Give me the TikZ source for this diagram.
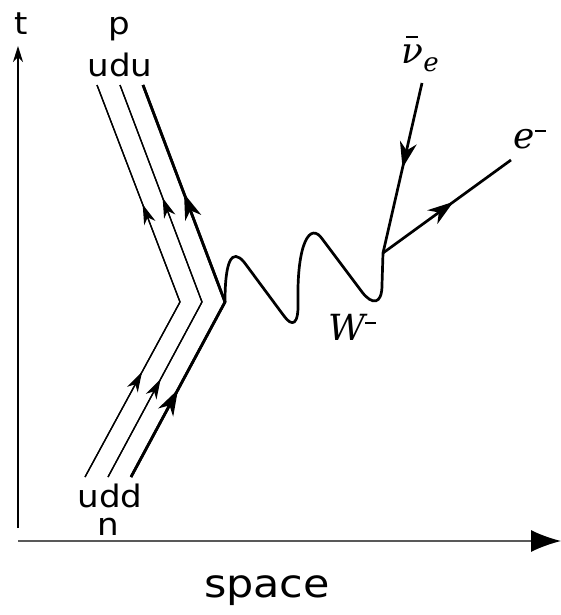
\documentclass[tikz,border=0pt]{standalone}
\usepackage{fontspec}
\setmainfont{DejaVu Sans}[FakeStretch=1.1]
\newfontfamily\mlab{DejaVu Serif}
\usetikzlibrary{arrows.meta,decorations.markings}
\newcommand{\supminus}{\raisebox{0.45em}{\rule{0.3em}{0.06em}}}
\tikzset{
  q/.style={line width=1.3pt},
  qb/.style={line width=2.7pt},
  marr/.style={postaction={decorate},decoration={markings,
     mark=at position #1 with {\arrow{Stealth[length=20pt,width=12pt,inset=6pt]}}}},
  marrb/.style={postaction={decorate},decoration={markings,
     mark=at position #1 with {\arrow{Stealth[length=26pt,width=17pt,inset=8pt]}}}},
  lbl/.style={inner sep=0pt,font=\fontsize{31}{31}\selectfont},
  mlbl/.style={inner sep=0pt,font=\fontsize{36}{36}\mlab\itshape},
}
\begin{document}
\begin{tikzpicture}[x=1pt,y=-1pt]
\useasboundingbox (0,0) rectangle (561,615);
% axes
\coordinate (t0) at (18,528);
\coordinate (t1) at (18,46);
\coordinate (s0) at (18,541);
\coordinate (s1) at (561,541);
\draw[line width=2pt,-{Stealth[length=16pt,width=10pt,inset=5pt]}] (t0) -- (t1);
\draw[line width=1.4pt,black!65,-{Latex[length=30pt,width=22pt,black]}] (s0) -- (s1);
\node[lbl,anchor=base] (tl) at (21,35) {t};
\node[inner sep=0pt,anchor=base,font=\fontsize{39}{39}\selectfont] (sl) at (267,597) {space};
% quarks
\coordinate (a0) at (85,477);  \coordinate (av) at (180,302); \coordinate (a1) at (97,85);
\coordinate (b0) at (108,477); \coordinate (bv) at (202,302); \coordinate (b1) at (120,85);
\coordinate (c0) at (131,477); \coordinate (cv) at (225,302); \coordinate (c1) at (143,85);
\draw[q,marr=0.6] (a0) -- (av);
\draw[q,marr=0.45] (av) -- (a1);
\draw[q,marr=0.56] (b0) -- (bv);
\draw[q,marr=0.48] (bv) -- (b1);
\draw[qb,marrb=0.5] (c0) -- (cv);
\draw[qb,marrb=0.5] (cv) -- (c1);
\draw[q,line join=miter] (a0) -- (av) -- (a1);
\draw[q,line join=miter] (b0) -- (bv) -- (b1);
\draw[qb,line join=miter] (c0) -- (cv) -- (c1);
\node[lbl,anchor=base] (pl) at (119,35) {p};
\node[lbl,anchor=base] (udu) at (120,77) {udu};
\node[lbl,anchor=base] (udd) at (110,507) {udd};
\node[lbl,anchor=base] (nl) at (108,535) {n};
% W boson
\coordinate (ev) at (383,253);
\draw[line width=2.7pt,line cap=round,line join=round]
  (cv) .. controls (225,260) and (232,248) .. (244,262)
  -- (284,316) .. controls (292,327) and (299,326) .. (298,300)
  .. controls (297,244) and (310,220) .. (323,240)
  -- (362,292) .. controls (372,305) and (382,305) .. (382,285)
  -- (ev);
\node[mlbl,anchor=base] (wl) at (352,340) {W\supminus};
% leptons
\coordinate (nu) at (422,83);
\coordinate (el) at (511,160);
\draw[qb,marrb=0.5] (nu) -- (ev);
\draw[qb,marrb=0.55] (ev) -- (el);
\node[mlbl,anchor=base] (nul) at (420,64) {\ooalign{ν\cr\hidewidth\raisebox{0.72em}{\rule{0.34em}{0.07em}}\hidewidth\cr}\raisebox{-0.22em}{\fontsize{26}{26}\selectfont e}};
\node[mlbl,anchor=base] (ell) at (530,148) {e\supminus};
\end{tikzpicture}
\end{document}
